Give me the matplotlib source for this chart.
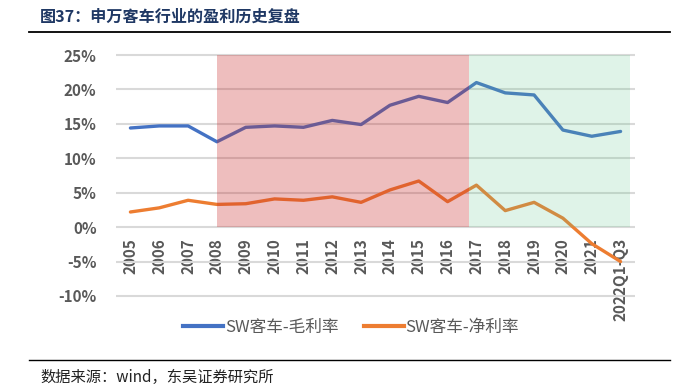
import matplotlib
matplotlib.use("Agg")
import matplotlib.pyplot as plt
from matplotlib.lines import Line2D

plt.rcParams['font.family'] = ['Noto Sans CJK SC', 'DejaVu Sans']

categories = ['2005', '2006', '2007', '2008', '2009', '2010', '2011', '2012', '2013',
              '2014', '2015', '2016', '2017', '2018', '2019', '2020', '2021', '2022Q1-Q3']
gross_margin = [14.4, 14.7, 14.7, 12.4, 14.5, 14.7, 14.5, 15.5, 14.9,
                17.7, 19.0, 18.1, 21.0, 19.5, 19.2, 14.1, 13.2, 13.9]
net_margin = [2.2, 2.8, 3.9, 3.3, 3.4, 4.1, 3.9, 4.4, 3.6,
              5.4, 6.7, 3.7, 6.1, 2.4, 3.6, 1.3, -2.4, -5.0]
yticks = [-10, -5, 0, 5, 10, 15, 20, 25]
red_span = (3, 11.73)
green_span = (11.73, 17.33)

W, H = 682, 391
fig = plt.figure(figsize=(W / 100, H / 100), dpi=100)
ax_l, ax_r = 116, 635
ax_t, ax_b = 53.3, 297.7
ax = fig.add_axes([ax_l / W, 1 - ax_b / H, (ax_r - ax_l) / W, (ax_b - ax_t) / H])

x = list(range(len(categories)))
ax.plot(x, gross_margin, color='#4472C4', lw=2.4, zorder=2, solid_capstyle='round')
ax.plot(x, net_margin, color='#ED7D31', lw=2.4, zorder=2, solid_capstyle='round')

ax.fill_between([red_span[0], red_span[1]], 0, 25, color=(0.78, 0.16, 0.16), alpha=0.3, lw=0, zorder=3)
ax.fill_between([green_span[0], green_span[1]], 0, 25, color=(0.39, 0.78, 0.55), alpha=0.2, lw=0, zorder=3)

ax.set_xlim(-0.5, 17.5)
ax.set_ylim(-10.25, 25.25)
ax.set_yticks(yticks)
ax.set_yticklabels([f'{v}%' for v in yticks])
ax.grid(axis='y', color='#d9d9d9', lw=1.5, zorder=1)
ax.set_axisbelow(True)
for s in ['top', 'right', 'left']:
    ax.spines[s].set_visible(False)
ax.spines['bottom'].set_position(('data', 0))
ax.spines['bottom'].set_visible(False)
ax.set_xticks(x)
ax.set_xticklabels(categories, rotation=90, va='top', ha='center')
ax.tick_params(axis='both', length=0, labelsize=11, labelcolor='#595959')
ax.tick_params(axis='y', pad=14)
ax.tick_params(axis='x', pad=8)
for lab in ax.get_xticklabels() + ax.get_yticklabels():
    lab.set_fontweight('bold')

handles = [Line2D([0], [0], color='#4472C4', lw=3), Line2D([0], [0], color='#ED7D31', lw=3)]
fig.legend(handles, ['SW客车-毛利率', 'SW客车-净利率'], loc='center', bbox_to_anchor=(351 / W, 1 - 327 / H),
           ncol=2, frameon=False, fontsize=12, handlelength=2.4, handletextpad=0.1,
           columnspacing=1.5, labelcolor='#595959')

fig.text(40 / W, 1 - 17 / H, '图37：申万客车行业的盈利历史复盘', fontsize=11.6, fontweight='bold',
         color='#1F3864', va='center', ha='left')
fig.add_artist(Line2D([29 / W, 670 / W], [1 - 31.5 / H, 1 - 31.5 / H], color='black', lw=1.3))
fig.add_artist(Line2D([29 / W, 670 / W], [1 - 360 / H, 1 - 360 / H], color='black', lw=1.0))
fig.text(40 / W, 1 - 377 / H, '数据来源：wind，东吴证券研究所', fontsize=11, color='#222222',
         va='center', ha='left')

fig.savefig('out.png', dpi=100)
